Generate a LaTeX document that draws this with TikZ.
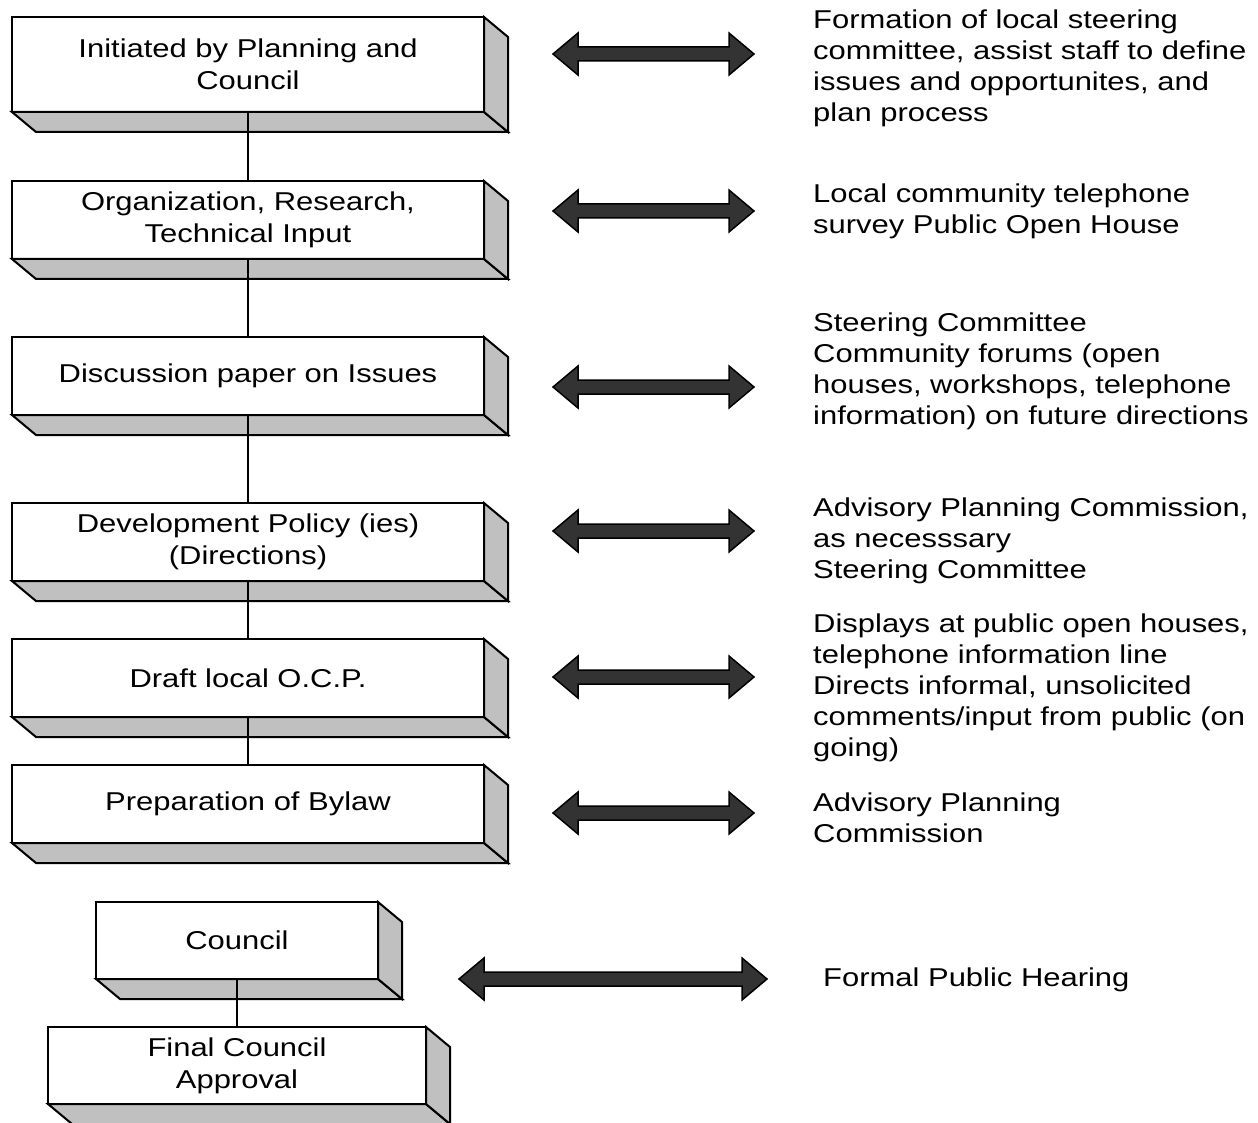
\documentclass[tikz,border=0pt]{standalone}
\usepackage{fontspec}
\setmainfont{Liberation Sans}[FakeStretch=1.2]
\usetikzlibrary{calc}

\definecolor{sidegray}{HTML}{C0C0C0}
\definecolor{arrowfill}{HTML}{333333}

\newcommand\notefont{\fontsize{25.8}{31}\selectfont}
\newcommand\boxfont{\fontsize{25.8}{32}\selectfont}

\tikzset{
  slabface/.style={draw=black, line width=2pt, fill=white, rectangle,
    inner sep=0pt, outer sep=0pt, align=center, font=\boxfont},
  slabside/.style={draw=black, line width=2pt, fill=sidegray, line join=miter},
  link/.style={draw=black, line width=2pt},
  biarrow/.style={draw=black, line width=1.5pt, fill=arrowfill, line join=miter},
  note/.style={anchor=base west, inner sep=0pt, text width=445pt,
    align=left, font=\notefont},
}

% a 3-D slab: name, left, top, right, bottom, text
\newcommand\slab[6]{%
  \node[slabface, anchor=north west,
        minimum width={(#4-#2)*1pt}, minimum height={(#5-#3)*1pt}]
        (#1) at (#2,#3) {#6};
  \draw[slabside] (#1.south west) -- ++(24,20)
     -- ($(#1.south east)+(24,20)$) -- (#1.south east) -- cycle;
  \draw[slabside] (#1.north east) -- ++(24,20)
     -- ($(#1.south east)+(24,20)$) -- (#1.south east) -- cycle;
}

% a block double arrow: left tip x, right tip x, centre y
\newcommand\twoway[3]{%
  \draw[biarrow] (#1,#3) -- ({#1+25},{#3-21}) -- ({#1+25},{#3-7})
    -- ({#2-25},{#3-7}) -- ({#2-25},{#3-21}) -- (#2,#3)
    -- ({#2-25},{#3+21}) -- ({#2-25},{#3+7}) -- ({#1+25},{#3+7})
    -- ({#1+25},{#3+21}) -- cycle;
}

\begin{document}
\begin{tikzpicture}[x=1pt, y=-1pt]
  \fill[white] (0,0) rectangle (1258,1123);
  \useasboundingbox (0,0) rectangle (1258,1123);

  % process steps
  \slab{s1}{12}{17}{484}{112}{Initiated by Planning and\\Council}
  \slab{s2}{12}{181}{484}{259}{Organization, Research,\\Technical Input}
  \slab{s3}{12}{337}{484}{415}{Discussion paper on Issues}
  \slab{s4}{12}{503}{484}{581}{Development Policy (ies)\\(Directions)}
  \slab{s5}{12}{639}{484}{717}{Draft local O.C.P.}
  \slab{s6}{12}{765}{484}{843}{Preparation of Bylaw}
  \slab{s7}{96}{902}{378}{979}{Council}
  \slab{s8}{48}{1027}{426}{1104}{Final Council\\Approval}

  % links between steps
  \draw[link] (s1.south) -- (s2.north);
  \draw[link] (s2.south) -- (s3.north);
  \draw[link] (s3.south) -- (s4.north);
  \draw[link] (s4.south) -- (s5.north);
  \draw[link] (s5.south) -- (s6.north);
  \draw[link] (s7.south) -- (s8.north);

  % two-way exchanges
  \twoway{553}{754}{54}
  \twoway{553}{754}{211}
  \twoway{553}{754}{387}
  \twoway{553}{754}{531}
  \twoway{553}{754}{677}
  \twoway{553}{754}{813}
  \twoway{459}{767}{979}

  % public involvement
  \node[note] (p1) at (813,29) {Formation of local steering\\committee, assist staff to define\\issues and opportunites, and\\plan process};
  \node[note] (p2) at (813,203) {Local community telephone\\survey Public Open House};
  \node[note] (p3) at (813,331) {Steering Committee\\Community forums (open\\houses, workshops, telephone\\information) on future directions};
  \node[note] (p4) at (813,516) {Advisory Planning Commission,\\as necesssary\\Steering Committee};
  \node[note] (p5) at (813,632) {Displays at public open houses,\\telephone information line\\Directs informal, unsolicited\\comments/input from public (on\\going)};
  \node[note] (p6) at (813,811) {Advisory Planning\\Commission};
  \node[note] (p7) at (823,986) {Formal Public Hearing};
\end{tikzpicture}
\end{document}
